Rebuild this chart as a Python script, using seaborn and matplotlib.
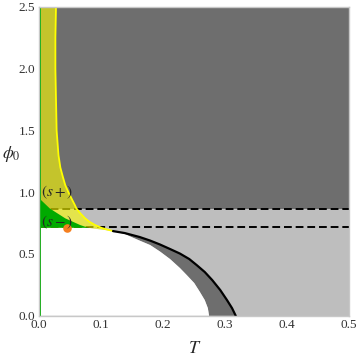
import numpy as np
import pandas as pd
import matplotlib
matplotlib.use("Agg")
import matplotlib.pyplot as plt
import seaborn as sns

# ------------------------------
# datos (T, phi0)
# ------------------------------
# curva amarilla (borde de la region s+)
yellow_phi = [2.5, 2.25, 2.0, 1.75, 1.5, 1.3, 1.2, 1.125, 1.056, 1.0, 0.949,
              0.9, 0.868, 0.83, 0.788, 0.76, 0.734, 0.71, 0.685]
yellow_T = [0.027, 0.026, 0.026, 0.027, 0.028, 0.031, 0.034, 0.038, 0.042, 0.047,
            0.052, 0.057, 0.060, 0.066, 0.074, 0.081, 0.090, 0.101, 0.119]

# borde de la region verde (s-)
green_phi = [0.95, 0.868, 0.788, 0.734, 0.712]
green_T = [0.0, 0.017, 0.042, 0.066, 0.079]

# curva negra (exterior)
black_phi = [0.685, 0.669, 0.637, 0.608, 0.576, 0.540, 0.503, 0.459, 0.410,
             0.354, 0.289, 0.208, 0.126, 0.062, 0.0]
black_T = [0.119, 0.138, 0.162, 0.179, 0.195, 0.211, 0.227, 0.242, 0.254,
           0.267, 0.279, 0.292, 0.303, 0.311, 0.317]

# borde de la region blanca (interior)
inner_phi = [0.685, 0.661, 0.608, 0.572, 0.519, 0.459, 0.386, 0.329, 0.265,
             0.194, 0.127, 0.062, 0.0]
inner_T = [0.119, 0.138, 0.162, 0.179, 0.195, 0.211, 0.227, 0.238, 0.250,
           0.259, 0.267, 0.272, 0.274]

# lineas discontinuas horizontales
dash_phi = [0.863, 0.718]

# punto naranja
dot_T = [0.044]
dot_phi = [0.712]

T_max, phi_max = 0.5, 2.5

DARK = "#6e6e6e"
LIGHT = "#bebebe"
GREEN = "#00aa00"

sns.set_style("white")
plt.rcParams["mathtext.fontset"] = "stix"
plt.rcParams["font.family"] = ["Liberation Serif", "DejaVu Serif"]

fig = plt.figure(figsize=(3.57, 3.58), dpi=100)
ax = fig.add_axes([0.110, 0.118, 0.868, 0.863])

# fondos
ax.axhspan(dash_phi[0], phi_max, color=DARK, lw=0, zorder=0)
ax.axhspan(0, dash_phi[0], color=LIGHT, lw=0, zorder=0)

# banda gris oscura entre curva interior y curva negra
band_T = black_T + inner_T[::-1]
band_phi = black_phi + inner_phi[::-1]
ax.fill(band_T, band_phi, color=DARK, lw=0, zorder=1)

# region blanca
white_T = [0.0, 0.0, green_T[-1]] + inner_T
white_phi = [0.0, green_phi[-1], green_phi[-1]] + inner_phi
ax.fill(white_T, white_phi, color="white", lw=0, zorder=1)

# lineas discontinuas
for p in dash_phi:
    ax.axhline(p, color="black", lw=1.4, dashes=(4, 2), zorder=2)

# region amarilla (transparente)
yel_T = [0.0] + yellow_T + [green_T[-1], 0.0]
yel_phi = [phi_max] + yellow_phi + [green_phi[-1], green_phi[-1]]
ax.fill(yel_T, yel_phi, color="#ffff00", alpha=0.6, lw=0, zorder=3)

# region verde
gr_T = [0.0] + green_T + [0.0]
gr_phi = [green_phi[0]] + green_phi + [green_phi[-1]]
ax.fill(gr_T, gr_phi, color=GREEN, lw=0, zorder=4)
ax.axvspan(0, 0.003, color=GREEN, lw=0, zorder=4)

# curvas
sns.lineplot(x=yellow_T, y=yellow_phi, sort=False, estimator=None,
             color="#ffff00", lw=1.3, ax=ax, zorder=5)
sns.lineplot(x=black_T, y=black_phi, sort=False, estimator=None,
             color="black", lw=1.6, ax=ax, zorder=5)

# punto naranja
sns.scatterplot(x=dot_T, y=dot_phi, color="#f57f20", s=38, lw=0, ax=ax, zorder=6)

# etiquetas de las regiones
ax.text(0.002, 0.997, r"$(s+)$", fontsize=11, va="center", ha="left", zorder=7)
ax.text(0.002, 0.754, r"$(s-)$", fontsize=11, va="center", ha="left", zorder=7)

ax.set_xlim(0, T_max)
ax.set_ylim(0, phi_max)
ax.set_xticks([0.0, 0.1, 0.2, 0.3, 0.4, 0.5])
ax.set_yticks([0.0, 0.5, 1.0, 1.5, 2.0, 2.5])
ax.set_xticklabels(["0.0", "0.1", "0.2", "0.3", "0.4", "0.5"])
ax.set_yticklabels(["0.0", "0.5", "1.0", "1.5", "2.0", "2.5"])
ax.set_xticks(np.arange(0, 0.5001, 0.02), minor=True)
ax.set_yticks(np.arange(0, 2.5001, 0.1), minor=True)
ax.tick_params(which="both", direction="in", color="#b0b0b0", labelsize=9.5,
               labelcolor="#333333")
ax.tick_params(which="major", length=4, width=0.6)
ax.tick_params(which="minor", length=2, width=0.5)
ax.tick_params(axis="x", pad=2)
ax.tick_params(axis="y", pad=3)
for s in ax.spines.values():
    s.set_color("#c8c8c8")
    s.set_linewidth(1.0)
    s.set_zorder(8)

ax.set_xlabel(r"$T$", fontsize=13)
ax.set_ylabel(r"$\phi_0$", fontsize=12.5, rotation=0)
ax.xaxis.set_label_coords(0.503, -0.078)
ax.yaxis.set_label_coords(-0.09, 0.49)

fig.savefig("out.png", dpi=100)
